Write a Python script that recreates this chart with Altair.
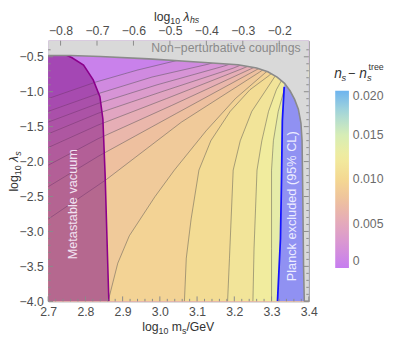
import altair as alt
import pandas as pd

# ---------------- data ----------------
X_DOMAIN = [2.7, 3.4]          # log10 m_s/GeV
Y_DOMAIN = [-4.0, -0.27]       # log10 lambda_s
LHS_DOMAIN = [-0.834, -0.119]  # log10 lambda_hs (top axis)

X_TICKS = [2.7, 2.8, 2.9, 3.0, 3.1, 3.2, 3.3, 3.4]
Y_TICKS = [-4.0, -3.5, -3.0, -2.5, -2.0, -1.5, -1.0, -0.5]
LHS_TICKS = [-0.8, -0.7, -0.6, -0.5, -0.4, -0.3, -0.2]

CBAR_VALS = [0.0, 0.0025, 0.005, 0.0075, 0.010, 0.0125, 0.015, 0.0175, 0.020]
CBAR_COLS = ["#c67cf0", "#d794d6", "#e4a9bc", "#eec09f", "#f4d892",
             "#f1ec9e", "#d6edb6", "#a8d8d8", "#6db4ef"]
CBAR_LABELS = [0.0, 0.005, 0.010, 0.015, 0.020]

# contour levels of n_s - n_s^tree
LEVELS = [0.001, 0.002, 0.003, 0.004, 0.005, 0.006, 0.007,
          0.008, 0.009, 0.010, 0.011, 0.012, 0.013]

L1_X = [2.700, 2.829, 2.939, 3.058, 3.097]
L1_Y = [-1.098, -0.860, -0.691, -0.537, -0.467]
L2_X = [2.700, 2.834, 2.979, 3.129, 3.163]
L2_Y = [-1.281, -1.028, -0.790, -0.607, -0.551]
L3_X = [2.700, 2.834, 2.992, 3.171, 3.203]
L3_Y = [-1.435, -1.168, -0.902, -0.635, -0.579]
L4_X = [2.700, 2.834, 3.005, 3.197, 3.229]
L4_Y = [-1.603, -1.309, -1.000, -0.663, -0.593]
L5_X = [2.700, 2.834, 3.018, 3.218, 3.250]
L5_Y = [-1.799, -1.477, -1.098, -0.677, -0.607]
L6_X = [2.700, 2.834, 3.032, 3.237, 3.266]
L6_Y = [-2.052, -1.673, -1.196, -0.691, -0.621]
L7_X = [2.700, 2.834, 3.045, 3.253, 3.282]
L7_Y = [-2.360, -1.926, -1.309, -0.705, -0.621]
L8_X = [2.700, 2.855, 3.058, 3.268, 3.295]
L8_Y = [-2.823, -2.262, -1.435, -0.719, -0.621]
L9_X = [2.861, 2.887, 2.918, 2.987, 3.039, 3.124, 3.203, 3.282, 3.308]
L9_Y = [-4.0, -3.454, -3.062, -2.501, -2.122, -1.561, -1.098, -0.734, -0.621]
L10_X = [3.066, 3.071, 3.084, 3.105, 3.137, 3.189, 3.242, 3.295, 3.316]
L10_Y = [-4.0, -3.384, -2.823, -2.122, -1.701, -1.281, -0.972, -0.762, -0.649]
L11_X = [3.182, 3.187, 3.197, 3.216, 3.247, 3.282, 3.308, 3.326]
L11_Y = [-4.0, -3.384, -2.122, -1.701, -1.281, -1.000, -0.790, -0.677]
L12_X = [3.250, 3.253, 3.261, 3.274, 3.292, 3.313, 3.329, 3.342]
L12_Y = [-4.0, -3.244, -2.122, -1.701, -1.281, -0.972, -0.818, -0.720]
L13_X = [3.300, 3.300, 3.300, 3.305, 3.318, 3.334, 3.350]
L13_Y = [-4.0, -3.244, -2.122, -1.701, -1.281, -0.972, -0.832]

# metastable-vacuum boundary
MB_X = [2.863, 2.858, 2.853, 2.847, 2.839, 2.821, 2.795, 2.763, 2.748]
MB_Y = [-4.0, -3.10, -2.19, -1.39, -1.07, -0.83, -0.62, -0.51, -0.475]
# Planck exclusion boundary
PB_X = [3.316, 3.324, 3.327, 3.329, 3.334]
PB_Y = [-4.0, -3.10, -2.20, -1.42, -0.93]
# non-perturbative boundary
GB_X = [2.680, 2.760, 2.840, 2.970, 3.100, 3.210, 3.260, 3.290, 3.315, 3.335,
        3.350, 3.362, 3.372, 3.379, 3.382, 3.384, 3.386, 3.388, 3.420]
GB_Y = [-0.481, -0.481, -0.495, -0.530, -0.575, -0.615, -0.660, -0.715, -0.790, -0.880,
        -0.990, -1.110, -1.250, -1.450, -1.700, -2.500, -3.500, -4.000, -4.000]

CONTOURS_X = [L1_X, L2_X, L3_X, L4_X, L5_X, L6_X, L7_X, L8_X, L9_X, L10_X, L11_X, L12_X, L13_X]
CONTOURS_Y = [L1_Y, L2_Y, L3_Y, L4_Y, L5_Y, L6_Y, L7_Y, L8_Y, L9_Y, L10_Y, L11_Y, L12_Y, L13_Y]

# ---------------- layout / style ----------------
PW, PH = 266, 266
FONT = "Liberation Sans"
TICK_COL = "#8a8a8a"
LAB_COL = "#4d4d4d"

xs = alt.Scale(domain=X_DOMAIN, nice=False, zero=False)
ys = alt.Scale(domain=Y_DOMAIN, nice=False, zero=False)
cs = alt.Scale(domain=CBAR_VALS, range=CBAR_COLS, interpolate="rgb")

x_axis = alt.Axis(values=X_TICKS, format=".1f", ticks=False, domain=False, grid=False,
                  labelPadding=4, labelFontSize=12.5, labelColor=LAB_COL, labelFont=FONT,
                  title=None, labelFlush=False, labelOverlap=False)
y_axis = alt.Axis(values=Y_TICKS, format=".1f", ticks=False, domain=False, grid=False,
                  labelPadding=5, labelFontSize=12.5, labelColor=LAB_COL, labelFont=FONT,
                  title=None, labelFlush=False, labelOverlap=False)


def X(f):
    return alt.X(f, type="quantitative", scale=xs, axis=x_axis)


def Y(f):
    return alt.Y(f, type="quantitative", scale=ys, axis=y_axis)


col = alt.Color("v:Q", scale=cs, legend=alt.Legend(
    orient="none", legendX=293, legendY=51, direction="vertical",
    gradientLength=181, gradientThickness=14, gradientStrokeWidth=0,
    title=None, values=CBAR_LABELS,
    labelExpr="datum.value == 0 ? '0' : format(datum.value, '.3f')",
    labelFontSize=12.5, labelColor="#6b6b6b", labelFont=FONT, labelOffset=4))

layers = []

# base band (below the first contour)
base_df = pd.DataFrame({"x": [2.69, 2.69], "xr": [3.45, 3.45], "y": [-4.05, -0.2],
                        "v": [0.0005, 0.0005]})
layers.append(alt.Chart(base_df).mark_area(orient="horizontal", clip=True).encode(
    y=Y("y"), x=X("x"), x2=alt.X2("xr"), color=col))

# bands to the right of each contour
for lv, cx, cy in zip(LEVELS, CONTOURS_X, CONTOURS_Y):
    bx, by = list(cx), list(cy)
    if bx[0] <= X_DOMAIN[0]:
        bx = [2.69, 2.69] + bx
        by = [-4.05, by[0]] + by
    df = pd.DataFrame({"x": bx, "y": by, "xr": [3.45] * len(bx), "v": [lv + 0.0005] * len(bx)})
    layers.append(alt.Chart(df).mark_area(orient="horizontal", clip=True).encode(
        y=Y("y"), x=X("x"), x2=alt.X2("xr"), color=col))

# contour lines
rows = []
for k, (cx, cy) in enumerate(zip(CONTOURS_X, CONTOURS_Y)):
    for i, (a, b) in enumerate(zip(cx, cy)):
        rows.append({"c": k, "i": i, "x": a, "y": b})
cl_df = pd.DataFrame(rows)
layers.append(alt.Chart(cl_df).mark_line(color="#505050", strokeWidth=0.8, opacity=0.6,
                                          clip=True).encode(
    x=X("x"), y=Y("y"), detail="c:N", order="i:Q"))

# metastable vacuum region
mb_df = pd.DataFrame({"x": MB_X, "y": MB_Y, "xl": [2.69] * len(MB_X),
                      "i": list(range(len(MB_X)))})
layers.append(alt.Chart(mb_df).mark_area(orient="horizontal", color="#851787", opacity=0.55,
                                          clip=True).encode(
    y=Y("y"), x=X("xl"), x2=alt.X2("x")))
layers.append(alt.Chart(mb_df).mark_line(color="#8b008b", strokeWidth=1.6, clip=True).encode(
    x=X("x"), y=Y("y"), order="i:Q"))

# Planck excluded region
pa_df = pd.DataFrame({"x": PB_X + [3.336], "y": PB_Y + [-0.80],
                      "xr": [3.45] * (len(PB_X) + 1)})
layers.append(alt.Chart(pa_df).mark_area(orient="horizontal", color="#8b8cf6", opacity=0.95,
                                          clip=True).encode(
    y=Y("y"), x=X("x"), x2=alt.X2("xr")))
pb_df = pd.DataFrame({"x": PB_X, "y": PB_Y, "i": list(range(len(PB_X)))})
layers.append(alt.Chart(pb_df).mark_line(color="#1414ff", strokeWidth=1.8, clip=True).encode(
    x=X("x"), y=Y("y"), order="i:Q"))

# non-perturbative region
gb_df = pd.DataFrame({"x": GB_X, "y": GB_Y, "yt": [-0.2] * len(GB_X),
                      "i": list(range(len(GB_X)))})
layers.append(alt.Chart(gb_df).mark_area(orient="vertical", color="#d9d9d9", opacity=1,
                                          clip=True).encode(
    x=X("x"), y=Y("y"), y2=alt.Y2("yt")))
layers.append(alt.Chart(gb_df).mark_line(color="#8a8a8a", strokeWidth=1.6, clip=True).encode(
    x=X("x"), y=Y("y"), order="i:Q"))

# region labels (data coordinates)
def region_text(t, x, y, angle, align, color, size):
    df = pd.DataFrame({"t": [t], "x": [x], "y": [y]})
    return alt.Chart(df).mark_text(angle=angle, align=align, baseline="middle", font=FONT,
                                   fontSize=size, color=color).encode(
        x=X("x"), y=Y("y"), text="t:N")

layers.append(region_text("Non\u2212perturbative couplings", 3.378, -0.375, 0, "right",
                          "#8a8a8a", 12.5))
layers.append(region_text("Metastable vacuum", 2.768, -2.61, 270, "center", "#f2e2f2", 13))
layers.append(region_text("Planck excluded (95% CL)", 3.355, -2.64, 270, "center",
                          "#ececff", 13))

# frame ticks (inward)
X_MINOR = [round(2.7 + 0.02 * k, 2) for k in range(36) if k % 5 != 0]
Y_MINOR = [round(-4.0 + 0.1 * k, 1) for k in range(37) if k % 5 != 0]


def xticks(vals, length):
    df = pd.DataFrame({"x": vals})
    return alt.Chart(df).mark_rule(color=TICK_COL, strokeWidth=1).encode(
        x=X("x"), y=alt.value(PH), y2=alt.value(PH - length))


def yticks(vals, length, side):
    df = pd.DataFrame({"y": vals})
    x0 = 0 if side == "left" else PW
    x1 = length if side == "left" else PW - length
    return alt.Chart(df).mark_rule(color=TICK_COL, strokeWidth=1).encode(
        y=Y("y"), x=alt.value(x0), x2=alt.value(x1))

layers.append(xticks(X_TICKS, 5))
layers.append(xticks(X_MINOR, 2.5))
layers.append(yticks(Y_TICKS, 5, "left"))
layers.append(yticks(Y_MINOR, 2.5, "left"))
layers.append(yticks(Y_TICKS, 5, "right"))
layers.append(yticks(Y_MINOR, 2.5, "right"))


# titles built from text pieces (pixel positions relative to plot origin)
def piece(t, px, py, size, italic=False, angle=0, color="#333333"):
    df = pd.DataFrame({"t": [t]})
    return alt.Chart(df).mark_text(align="left", baseline="alphabetic", font=FONT,
                                   fontSize=size, fontStyle="italic" if italic else "normal",
                                   angle=angle, color=color).encode(
        x=alt.value(px), y=alt.value(py), text="t:N")

# bottom: log10 m_s/GeV
layers += [piece("log", 96, 296, 12.5), piece("10", 112.7, 299, 9),
           piece("m", 126.2, 296, 12.5), piece("s", 136.6, 299, 9),
           piece("/GeV", 141.1, 296, 12.5)]
# top: log10 lambda_hs
layers += [piece("log", 108, -20.5, 12.5), piece("10", 124.7, -17.5, 9),
           piece("\u03bb", 138.2, -20.5, 12.5, italic=True),
           piece("hs", 144.7, -18, 9, italic=True)]
# left: log10 lambda_s (rotated)
layers += [piece("log", -31, 154, 12.5, angle=270), piece("10", -28, 137.3, 9, angle=270),
           piece("\u03bb", -31, 123.8, 12.5, italic=True, angle=270),
           piece("s", -28, 117.3, 9, italic=True, angle=270)]
# colour-bar title: n_s - n_s^tree
layers += [piece("n", 292, 38, 14, italic=True), piece("s", 299.5, 41, 9.5, italic=True),
           piece("\u2212", 306, 38, 13), piece("n", 317.5, 38, 14, italic=True),
           piece("s", 325.5, 41, 9.5, italic=True), piece("tree", 327, 30, 9)]

inner = alt.layer(*layers)

# top axis (log10 lambda_hs)
top_df = pd.DataFrame({"t": LHS_TICKS})
top = alt.Chart(top_df).mark_rule(color=TICK_COL, strokeWidth=1).encode(
    x=alt.X("t:Q", scale=alt.Scale(domain=LHS_DOMAIN, nice=False, zero=False),
            axis=alt.Axis(orient="top", values=LHS_TICKS, format=".1f", ticks=False,
                          domain=False, grid=False, labelPadding=3, labelFontSize=12.5,
                          labelColor=LAB_COL, labelFont=FONT, title=None,
                          labelFlush=False, labelOverlap=False)),
    y=alt.value(0), y2=alt.value(5))

chart = alt.layer(inner, top).resolve_scale(x="independent").properties(
    width=PW, height=PH,
    autosize=alt.AutoSizeParams(type="none"),
    padding={"left": 41, "top": 30, "right": 87, "bottom": 32},
).configure_view(stroke="#8a8a8a", strokeWidth=1)

chart.save("out.html", embed_options={"renderer": "svg", "actions": False})
